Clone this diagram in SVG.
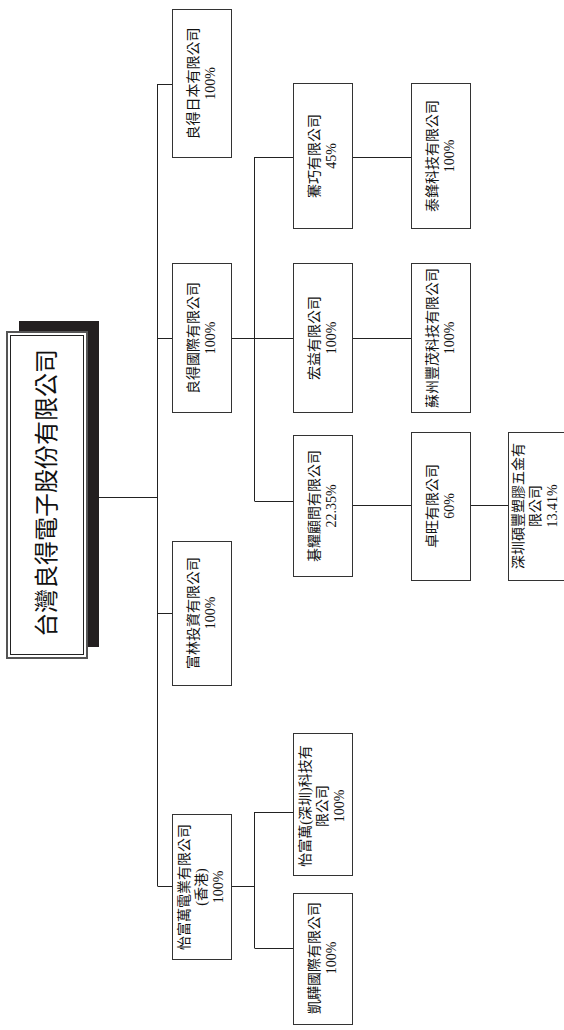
<svg xmlns="http://www.w3.org/2000/svg" width="564" height="1030" viewBox="0 0 564 1030">
<style>
.box{fill:#fff;stroke:#333;stroke-width:1}
.t{font-family:"Liberation Serif","Noto Sans CJK TC",serif;font-size:14px;fill:#111;text-anchor:middle}
.title{font-family:"Liberation Serif","Noto Sans CJK TC",serif;font-size:24px;fill:#111;text-anchor:middle}
.c{stroke:#222;stroke-width:1;fill:none}
</style>
<rect width="564" height="1030" fill="#fff"/>
<g id="connectors">
<path class="c" d="M99,497.5H157.5M157.5,84V886M157.5,84.5H172M157.5,338.5H172M157.5,613.5H172M157.5,886.5H172"/>
<path class="c" d="M231,338.5H293M254.5,157V501M254.5,157.5H293M254.5,501.5H293"/>
<path class="c" d="M352,157.5H411M352,338.5H411M352,505.5H411M470,505.5H508"/>
<path class="c" d="M231,886.5H254.5M254.5,812V948M254.5,812.5H293M254.5,948.5H293"/>
</g>
<g id="root">
<rect x="19" y="321" width="80" height="326" fill="#231f20"/>
<rect x="7" y="332" width="80" height="326" fill="#fff" stroke="#555" stroke-width="2"/>
<rect x="10.5" y="335.5" width="73" height="319" fill="none" stroke="#222" stroke-width="1"/>
<text class="title" transform="translate(46,493) rotate(-90)" y="9">台灣良得電子股份有限公司</text>
</g>
<g id="n_japan">
<rect class="box" x="172.5" y="9.5" width="59" height="148"/>
<text class="t" transform="translate(202,83.5) rotate(-90)"><tspan x="0" y="-4">良得日本有限公司</tspan><tspan x="0" y="13">100%</tspan></text>
</g>
<g id="n_intl">
<rect class="box" x="172.5" y="263.5" width="59" height="149"/>
<text class="t" transform="translate(202,338) rotate(-90)"><tspan x="0" y="-4">良得國際有限公司</tspan><tspan x="0" y="13">100%</tspan></text>
</g>
<g id="n_fulin">
<rect class="box" x="172.5" y="541.5" width="59" height="144"/>
<text class="t" transform="translate(202,613) rotate(-90)"><tspan x="0" y="-4">富林投資有限公司</tspan><tspan x="0" y="13">100%</tspan></text>
</g>
<g id="n_yfw">
<rect class="box" x="172.5" y="814.5" width="59" height="145"/>
<text class="t" transform="translate(202,887) rotate(-90)"><tspan x="0" y="-13">怡富萬電業有限公司</tspan><tspan x="0" y="4">(香港)</tspan><tspan x="0" y="21">100%</tspan></text>
</g>
<g id="n_qiao">
<rect class="box" x="293.5" y="83.5" width="59" height="145"/>
<text class="t" transform="translate(323,156) rotate(-90)"><tspan x="0" y="-4">騫巧有限公司</tspan><tspan x="0" y="13">45%</tspan></text>
</g>
<g id="n_hongyi">
<rect class="box" x="293.5" y="263.5" width="59" height="149"/>
<text class="t" transform="translate(323,338) rotate(-90)"><tspan x="0" y="-4">宏益有限公司</tspan><tspan x="0" y="13">100%</tspan></text>
</g>
<g id="n_qiyao">
<rect class="box" x="293.5" y="435.5" width="59" height="141"/>
<text class="t" transform="translate(323,506) rotate(-90)"><tspan x="0" y="-4">碁耀顧問有限公司</tspan><tspan x="0" y="13">22.35%</tspan></text>
</g>
<g id="n_yfwsz">
<rect class="box" x="293.5" y="733.5" width="59" height="142"/>
<text class="t" transform="translate(323,806) rotate(-90)"><tspan x="0" y="-13">怡富萬(深圳)科技有</tspan><tspan x="0" y="4">限公司</tspan><tspan x="0" y="21">100%</tspan></text>
</g>
<g id="n_kai">
<rect class="box" x="293.5" y="893.5" width="59" height="131"/>
<text class="t" transform="translate(323,958) rotate(-90)"><tspan x="0" y="-4">凱驊國際有限公司</tspan><tspan x="0" y="13">100%</tspan></text>
</g>
<g id="n_taifeng">
<rect class="box" x="411.5" y="83.5" width="59" height="145"/>
<text class="t" transform="translate(441,156) rotate(-90)"><tspan x="0" y="-4">泰鋒科技有限公司</tspan><tspan x="0" y="13">100%</tspan></text>
</g>
<g id="n_suzhou">
<rect class="box" x="411.5" y="263.5" width="59" height="149"/>
<text class="t" transform="translate(441,338) rotate(-90)"><tspan x="0" y="-4">蘇州豐茂科技有限公司</tspan><tspan x="0" y="13">100%</tspan></text>
</g>
<g id="n_zhuowang">
<rect class="box" x="411.5" y="432.5" width="59" height="148"/>
<text class="t" transform="translate(441,506) rotate(-90)"><tspan x="0" y="-4">卓旺有限公司</tspan><tspan x="0" y="13">60%</tspan></text>
</g>
<g id="n_shuofeng">
<rect class="box" x="508.5" y="432.5" width="56" height="148"/>
<text class="t" transform="translate(536,506) rotate(-90)"><tspan x="0" y="-13">深圳碩豐塑膠五金有</tspan><tspan x="0" y="4">限公司</tspan><tspan x="0" y="21">13.41%</tspan></text>
</g>
</svg>
